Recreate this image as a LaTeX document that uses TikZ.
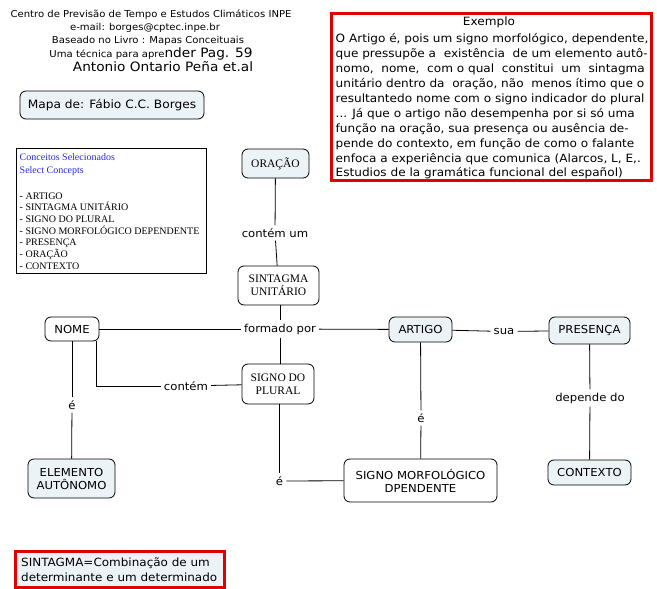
\documentclass[tikz,border=0pt]{standalone}
\usepackage{fontspec}
\setmainfont{DejaVu Sans}[FakeStretch=1.06]
\newfontfamily\tms{Liberation Serif}
\definecolor{nfill}{RGB}{236,243,246}
\definecolor{cred}{RGB}{225,0,0}
\definecolor{cblue}{RGB}{40,40,220}
\tikzset{
  x=1pt,y=-1pt,
  cbox/.style={draw, rounded corners=6pt, line width=0.8pt, align=center, inner sep=0pt, font=\fontsize{11}{13}\selectfont},
  filled/.style={cbox, fill=nfill},
  plain/.style={cbox, fill=white},
  serifnode/.style={font=\tms\fontsize{11.5}{13}\selectfont},
  lbl/.style={inner sep=3pt, font=\fontsize{11}{13}\selectfont},
  conn/.style={line width=0.8pt},
  hdr/.style={inner sep=0pt, font=\fontsize{9.5}{11}\selectfont},
}
\begin{document}
\begin{tikzpicture}
\useasboundingbox (0,0) rectangle (657,589);
% header
\node[hdr] (h1) at (151,15) {Centro de Previsão de Tempo e Estudos Climáticos INPE};
\node[hdr] (h2) at (145,27.5) {e-mail: borges@cptec.inpe.br};
\node[hdr] (h3) at (148,40.5) {Baseado no Livro : Mapas Conceituais};
\node[hdr] (h4) at (151,53.5) {Uma técnica para apre{\fontsize{12.9}{14}\selectfont nder Pag. 59}};
\node[hdr, font=\fontsize{12.9}{14}\selectfont] (h5) at (163,67) {Antonio Ontario Peña et.al};
% mapa
\node[filled, minimum width=184, minimum height=28, font=\fontsize{11.5}{13}\selectfont] (mapa) at (112,105) {Mapa de: Fábio C.C. Borges};
% exemplo
\node[draw=cred, line width=3pt, fill=white, minimum width=320, minimum height=167, inner sep=0pt] (ex) at (491.5,97) {};
\node[inner sep=0pt, font=\fontsize{11.4}{14.9}\selectfont] (extitle) at (489,22.5) {Exemplo};
\node[anchor=north west, inner sep=0pt, align=left, font=\fontsize{11.4}{14.9}\selectfont] (extext) at (335.5,33.5) {%
O Artigo é, pois um signo morfológico, dependente,\\
que pressupõe a \ existência \ de um elemento autô-\\
nomo, \ nome, \ com o qual \ constitui \ um \ sintagma\\
unitário dentro da \ oração, não \ menos ítimo que o\\
resultantedo nome com o signo indicador do plural\\
... Já que o artigo não desempenha por si só uma\\
função na oração, sua presença ou ausência de-\\
pende do contexto, em função de como o falante\\
enfoca a experiência que comunica (Alarcos, L, E,.\\
Estudios de la gramática funcional del español)};
% concepts
\node[draw, line width=0.8pt, minimum width=190, minimum height=125, inner sep=0pt] (cc) at (111,210.5) {};
\node[anchor=north west, inner sep=0pt, align=left, font=\tms\fontsize{10}{11.7}\selectfont] (cctext) at (19.5,153) {%
{\color{cblue}Conceitos Selecionados}\\[1.3pt]
{\color{cblue}Select Concepts}\\[14.3pt]
- ARTIGO\\
- SINTAGMA UNITÁRIO\\
- SIGNO DO PLURAL\\
- SIGNO MORFOLÓGICO DEPENDENTE\\
- PRESENÇA\\
- ORAÇÃO\\
- CONTEXTO};
% concept nodes
\node[filled, serifnode, minimum width=67, minimum height=29] (oracao) at (275.5,163.5) {ORAÇÃO};
\node[plain, serifnode, minimum width=81, minimum height=39] (sint) at (278.5,285.5) {SINTAGMA\\UNITÁRIO};
\node[plain, minimum width=54, minimum height=24] (nome) at (72,329) {NOME};
\node[filled, minimum width=63, minimum height=25] (artigo) at (420.5,329.5) {ARTIGO};
\node[filled, minimum width=81, minimum height=27] (pres) at (589.5,330.5) {PRESENÇA};
\node[plain, serifnode, minimum width=72, minimum height=40] (plural) at (278,384) {SIGNO DO\\PLURAL};
\node[filled, minimum width=87, minimum height=39] (elem) at (71.5,478.5) {ELEMENTO\\AUTÔNOMO};
\node[plain, minimum width=153, minimum height=43] (morfo) at (420.5,480.5) {SIGNO MORFOLÓGICO\\DPENDENTE};
\node[filled, minimum width=83, minimum height=25] (ctx) at (589.5,472.5) {CONTEXTO};
% labels
\node[lbl] (lcontemum) at (275,233) {contém um};
\node[lbl] (lform) at (280,329) {formado por};
\node[lbl] (lsua) at (504,331.5) {sua};
\node[lbl] (lcontem) at (186,386) {contém};
\node[lbl] (le1) at (72,405) {é};
\node[lbl] (le2) at (279.5,481) {é};
\node[lbl] (le3) at (421,418) {é};
\node[lbl] (ldep) at (590,398) {depende do};
% connectors
\draw[conn] (oracao) -- (lcontemum);
\draw[conn] (lcontemum) -- (sint);
\draw[conn] (sint.south -| lform) -- (lform);
\draw[conn] (nome) -- (lform);
\draw[conn] (lform) -- (artigo);
\draw[conn] (lform) -- (plural.north -| lform);
\draw[conn] ([xshift=-3pt]nome.south east) |- (lcontem.west);
\draw[conn] (lcontem) -- (plural);
\draw[conn] (nome) -- (le1);
\draw[conn] (le1) -- (elem);
\draw[conn] (plural.south -| le2) -- (le2.north);
\draw[conn] (le2) -- (morfo);
\draw[conn] (artigo) -- (le3);
\draw[conn] (le3) -- (morfo);
\draw[conn] (artigo) -- (lsua);
\draw[conn] (lsua) -- (pres);
\draw[conn] (pres) -- (ldep);
\draw[conn] (ldep) -- (ctx);
% sintagma box
\node[draw=cred, line width=3pt, fill=nfill, minimum width=209, minimum height=36, inner sep=0pt] (sbox) at (119.5,569) {};
\node[anchor=west, inner sep=0pt, align=left, font=\fontsize{11.3}{15}\selectfont] (stext) at (21,569.5) {SINTAGMA=Combinação de um\\determinante e um determinado};
\end{tikzpicture}
\end{document}
